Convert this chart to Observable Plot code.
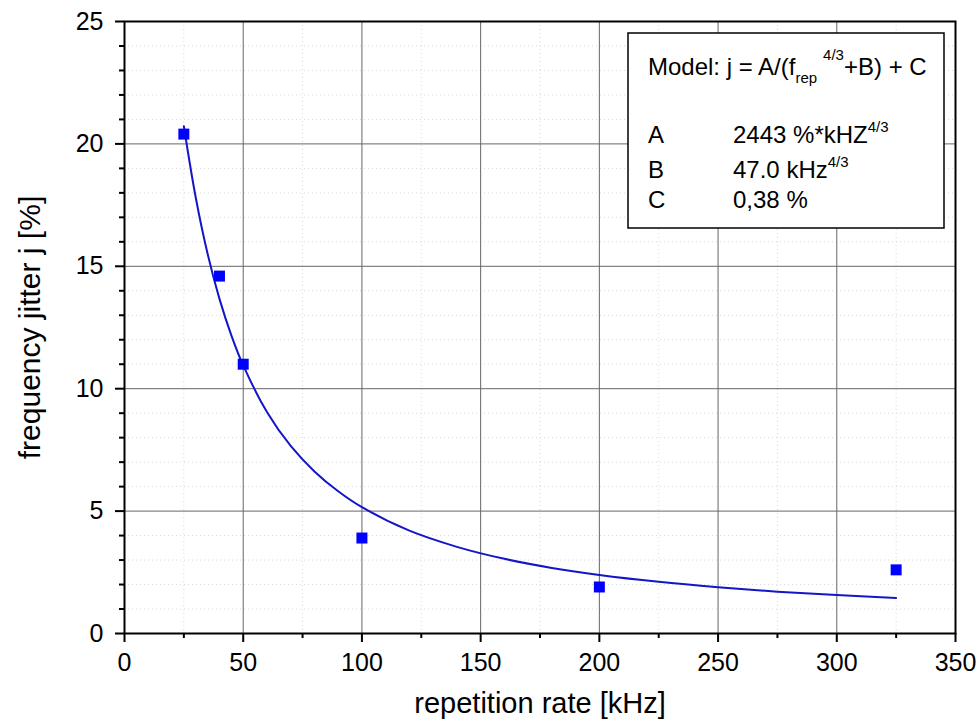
<!DOCTYPE html>
<html>
<head>
<meta charset="utf-8">
<script src="https://cdn.jsdelivr.net/npm/d3@7"></script>
<script src="https://cdn.jsdelivr.net/npm/@observablehq/plot@0.6"></script>
<style>
  html, body { margin: 0; padding: 0; background: #fff; }
  #chart { width: 979px; height: 728px; }
</style>
</head>
<body>
<div id="chart"></div>
<script>
// Measured data points
const repRate = [25, 40, 50, 100, 200, 325];          // kHz
const jitter  = [20.4, 14.6, 11.0, 3.9, 1.9, 2.6];    // %

// Fitted curve, values
const fitRate   = [25, 30, 35, 40, 45, 50, 60, 70, 80, 90, 100, 120, 140, 160, 180, 200, 225, 250, 275, 300, 325];
const fitJitter = [20.72, 17.81, 15.51, 13.67, 12.18, 10.95, 9.05, 7.66, 6.62, 5.81, 5.16, 4.20, 3.54, 3.05, 2.68, 2.39, 2.11, 1.89, 1.71, 1.57, 1.45];

// Tick values
const xMajor = [0, 50, 100, 150, 200, 250, 300, 350];
const xMinor = [25, 75, 125, 175, 225, 275, 325];
const yMajor = [0, 5, 10, 15, 20, 25];
const yMinor = [1,2,3,4,6,7,8,9,11,12,13,14,16,17,18,19,21,22,23,24];

const xTitle = "repetition rate [kHz]";
const yTitle = "frequency jitter j [%]";

const points = repRate.map((x, i) => ({x, y: jitter[i]}));
const fit = fitRate.map((x, i) => ({x, y: fitJitter[i]}));

const font = "'Liberation Sans', Arial, sans-serif";

const plot = Plot.plot({
  width: 979,
  height: 728,
  marginLeft: 124,
  marginRight: 24,
  marginTop: 21,
  marginBottom: 95,
  style: {fontFamily: font, fontSize: "24px", background: "#fff", color: "#000", overflow: "visible"},
  x: {domain: [0, 350]},
  y: {domain: [0, 25]},
  marks: [
    Plot.gridX(xMinor, {stroke: "#d8d8d8", strokeOpacity: 1, strokeDasharray: "1,3"}),
    Plot.gridY(yMinor, {stroke: "#d8d8d8", strokeOpacity: 1, strokeDasharray: "1,3"}),
    Plot.gridX(xMajor.slice(1, -1), {stroke: "#666", strokeOpacity: 1, strokeWidth: 1}),
    Plot.gridY(yMajor.slice(1, -1), {stroke: "#666", strokeOpacity: 1, strokeWidth: 1}),
    Plot.axisX(xMinor, {tickSize: 5, strokeWidth: 2, text: null, label: null}),
    Plot.axisY(yMinor, {tickSize: 5, strokeWidth: 2, text: null, label: null}),
    Plot.axisX(xMajor, {tickSize: 9, tickPadding: 11, strokeWidth: 2, fontSize: 25, label: null}),
    Plot.axisY(yMajor, {tickSize: 9, tickPadding: 12, strokeWidth: 2, fontSize: 25, label: null}),
    Plot.frame({stroke: "#000", strokeWidth: 2}),
    Plot.line(fit, {x: "x", y: "y", stroke: "#1515c8", strokeWidth: 2, curve: "catmull-rom"}),
    Plot.dot(points, {x: "x", y: "y", symbol: "square", r: 6.2, fill: "#0000ff", stroke: "none"}),
    Plot.text([xTitle], {frameAnchor: "bottom", dy: 79, text: d => d, fontSize: 29}),
    Plot.text([yTitle], {frameAnchor: "left", dx: -94, rotate: -90, textAnchor: "middle", text: d => d, fontSize: 30})
  ]
});

document.getElementById("chart").appendChild(plot);

// Model box annotation
const svg = d3.select(plot);
const g = svg.append("g").attr("font-family", font).attr("font-size", 24)
  .attr("fill", "#000").attr("text-anchor", "start");
g.append("rect").attr("x", 628).attr("y", 33).attr("width", 316).attr("height", 195)
  .attr("fill", "#fff").attr("stroke", "#000").attr("stroke-width", 1.5);

const t0 = g.append("text").attr("x", 648).attr("y", 75);
t0.append("tspan").text("Model: j = A/(f");
t0.append("tspan").attr("font-size", 15).attr("dy", 8).text("rep");
t0.append("tspan").attr("font-size", 15).attr("dy", -23).attr("dx", 6).text("4/3");
t0.append("tspan").attr("dy", 15).text("+B) + C");

const rows = [
  ["A", "2443 %*kHZ", "4/3", 143],
  ["B", "47.0 kHz", "4/3", 178],
  ["C", "0,38 %", "", 208]
];
for (const [k, v, sup, y] of rows) {
  g.append("text").attr("x", 648).attr("y", y).text(k);
  const t = g.append("text").attr("x", 733).attr("y", y);
  t.append("tspan").text(v);
  if (sup) t.append("tspan").attr("font-size", 15).attr("dy", -11).text(sup);
}
</script>
</body>
</html>
